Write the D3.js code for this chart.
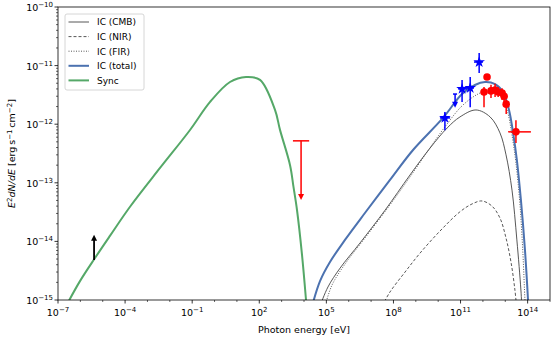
<!DOCTYPE html>
<html>
<head>
<meta charset="utf-8">
<script src="https://cdn.jsdelivr.net/npm/d3@7"></script>
<style>
  body { margin: 0; background: #fff; }
  text { font-family: "DejaVu Sans", sans-serif; fill: #000; }
</style>
</head>
<body>
<div id="chart"></div>
<script>
// model curves, [energy eV, E^2 dN/dE erg s^-1 cm^-2]
const icCMB = [[5.2e4,7.9e-16],[1.18e5,1.67e-15],[4.1e5,3.5e-15],[3.2e6,9.4e-15],[4.2e7,3.4e-14],[5.5e8,1.36e-13],
  [4.3e9,3.9e-13],[2.5e10,8.6e-13],[9.4e10,1.33e-12],[4.9e11,1.75e-12],[2.1e12,1.33e-12],[5.8e12,7.1e-13],
  [1.08e13,3.0e-13],[2.0e13,7.5e-14],[3.3e13,1.06e-14],[5.0e13,1.48e-15],[5.6e13,6.8e-16]];
const icNIR = [[3.1e7,7.9e-16],[7.0e7,1.37e-15],[3.3e8,3.0e-15],[1.54e9,6.3e-15],[1.2e10,1.5e-14],[9.4e10,3.2e-14],
  [3.25e11,4.35e-14],[9.1e11,4.9e-14],[2.55e12,4.0e-14],[5.8e12,2.5e-14],[1.08e13,1.14e-14],[1.8e13,4.45e-15],
  [2.7e13,1.48e-15],[3.3e13,6.8e-16]];
const icFIR = [[8.7e4,7.9e-16],[1.79e5,1.8e-15],[6.8e5,4.1e-15],[5.3e6,1.14e-14],[7.0e7,4.2e-14],[5.5e8,1.26e-13],
  [3.2e9,3.36e-13],[2.0e10,9.0e-13],[1.16e11,2.05e-12],[6.0e11,3.27e-12],[2.1e12,3.84e-12],[5.8e12,3.27e-12],
  [1.2e13,1.75e-12],[2.0e13,6.5e-13],[3.0e13,2.18e-13],[4.55e13,4.2e-14],[6.2e13,5.9e-15],[7.6e13,1.0e-15],[8.5e13,5.5e-16]];
const icTotal = [[2.3e4,7.9e-16],[5.2e4,2.1e-15],[1.45e5,4.45e-15],[6.8e5,1.06e-14],[5.3e6,3.05e-14],[7.0e7,1.12e-13],
  [7.5e8,3.63e-13],[1.64e10,1.28e-12],[1.16e11,3.27e-12],[4.4e11,4.67e-12],[1.24e12,5.25e-12],[3.5e12,4.85e-12],
  [7.9e12,3.55e-12],[1.47e13,1.75e-12],[2.2e13,7.4e-13],[3.3e13,2.45e-13],[5.0e13,5.1e-14],[7.6e13,7.1e-15],
  [1.04e14,1.0e-15],[1.15e14,4.6e-16]];
const sync = [[2.3e-7,7.9e-16],[9.6e-7,2.1e-15],[4.5e-6,5.2e-15],[2.1e-5,1.24e-14],[1.66e-4,3.9e-14],[3.65e-3,1.79e-13],
  [0.08,7.96e-13],[0.63,2.4e-12],[4.9,5.25e-12],[25.5,6.4e-12],[108,5.7e-12],[505,1.75e-12],[845,8e-13],
  [2377,2.0e-13],[3390,8.5e-14],[4880,3.4e-14],[8150,5.9e-15],[1.23e4,1.0e-15],[1.44e4,4.6e-16]];

// blue stars: E, Elo, Ehi, F, Flo, Fhi
const starPts = [
  [2.0e10, 1.2e10, 3.4e10, 1.28e-12, 7.9e-13, 1.62e-12],
  [1.17e11, 7.8e10, 1.95e11, 4.0e-12, 2.4e-12, 5.7e-12],
  [2.7e11, 1.8e11, 4.0e11, 4.15e-12, 1.95e-12, 6.4e-12],
  [6.8e11, 4.0e11, 1.0e12, 1.15e-11, 7.5e-12, 1.64e-11]
];
const starUL = [[5.7e10, 4.6e10, 7.0e10, 3.27e-12, 1.9e-12]];  // E, Elo, Ehi, F, arrow tip
// red circles: E, Elo, Ehi, F, Flo, Fhi
const redPts = [
  [1.53e12, 1.53e12, 1.53e12, 6.4e-12, 5.9e-12, 6.9e-12],
  [1.12e12, 1.12e12, 1.12e12, 3.55e-12, 1.95e-12, 4.3e-12],
  [2.3e12, 2.3e12, 2.3e12, 3.7e-12, 2.8e-12, 4.7e-12],
  [3.5e12, 3.5e12, 3.5e12, 3.84e-12, 2.9e-12, 4.9e-12],
  [4.8e12, 4.8e12, 4.8e12, 3.55e-12, 2.9e-12, 4.3e-12],
  [7.2e12, 7.2e12, 7.2e12, 3.4e-12, 2.6e-12, 4.1e-12],
  [8.9e12, 8.9e12, 8.9e12, 3.0e-12, 2.4e-12, 3.6e-12],
  [1.1e13, 1.1e13, 1.1e13, 2.2e-12, 1.5e-12, 2.6e-12],
  [3.0e13, 1.35e13, 1.4e14, 7.4e-13, 4.8e-13, 1.17e-12]
];
const redUL = [[7.4e3, 3.2e3, 1.7e4, 5.2e-13, 5.1e-14]];
const blackLL = [[4.1e-6, 4.8e-15, 1.3e-14]];  // E, F, arrow tip

const xTicks = [1e-7, 1e-4, 1e-1, 1e2, 1e5, 1e8, 1e11, 1e14];
const yTicks = [1e-15, 1e-14, 1e-13, 1e-12, 1e-11, 1e-10];

const legendItems = [
  { label: "IC (CMB)", color: "#444", width: 1, dash: null },
  { label: "IC (NIR)", color: "#444", width: 1, dash: "3,2" },
  { label: "IC (FIR)", color: "#444", width: 1, dash: "1,1.5" },
  { label: "IC (total)", color: "#4c72b0", width: 2, dash: null },
  { label: "Sync", color: "#55a868", width: 2, dash: null }
];

const W = 555, H = 341;
const margin = { top: 7, right: 5, bottom: 41, left: 58 };
const width = W - margin.left - margin.right;
const height = H - margin.top - margin.bottom;

const svg = d3.select("#chart").append("svg")
  .attr("width", W).attr("height", H);

const g = svg.append("g").attr("transform", `translate(${margin.left},${margin.top})`);

const x = d3.scaleLog().domain([1e-7, 1e15]).range([0, width]);
const y = d3.scaleLog().domain([1e-15, 1e-10]).range([height, 0]);

svg.append("defs").append("clipPath").attr("id", "clip")
  .append("rect").attr("width", width).attr("height", height);

// minor ticks
const xMinor = d3.range(-7, 16).map(p => Math.pow(10, p)).filter(v => !xTicks.includes(v));
const yMinor = [];
for (let p = -15; p < -10; p++) for (let k = 2; k < 10; k++) yMinor.push(k * Math.pow(10, p));

g.selectAll(".xminor").data(xMinor).join("line")
  .attr("x1", d => x(d)).attr("x2", d => x(d)).attr("y1", height).attr("y2", height + 2)
  .attr("stroke", "#000").attr("stroke-width", 0.6);
g.selectAll(".yminor").data(yMinor).join("line")
  .attr("x1", 0).attr("x2", -2).attr("y1", d => y(d)).attr("y2", d => y(d))
  .attr("stroke", "#000").attr("stroke-width", 0.6);

g.selectAll(".xmajor").data(xTicks).join("line")
  .attr("x1", d => x(d)).attr("x2", d => x(d)).attr("y1", height).attr("y2", height + 3.5)
  .attr("stroke", "#000").attr("stroke-width", 0.8);
g.selectAll(".ymajor").data(yTicks).join("line")
  .attr("x1", 0).attr("x2", -3.5).attr("y1", d => y(d)).attr("y2", d => y(d))
  .attr("stroke", "#000").attr("stroke-width", 0.8);

function powLabel(sel, d) {
  const e = Math.round(Math.log10(d));
  sel.append("tspan").text("10");
  sel.append("tspan").attr("dy", -4).style("font-size", "7px")
    .text(e < 0 ? "\u2212" + (-e) : e);
}

g.selectAll(".xlab").data(xTicks).join("text")
  .attr("x", d => x(d)).attr("y", height + 16)
  .attr("text-anchor", "middle").style("font-size", "9.5px")
  .each(function (d) { powLabel(d3.select(this), d); });

g.selectAll(".ylab").data(yTicks).join("text")
  .attr("x", -5).attr("y", d => y(d) + 4)
  .attr("text-anchor", "end").style("font-size", "9.5px")
  .each(function (d) { powLabel(d3.select(this), d); });

// curves
const line = d3.line().x(d => x(d[0])).y(d => y(d[1])).curve(d3.curveCatmullRom.alpha(0.5));
const curves = g.append("g").attr("clip-path", "url(#clip)");
const curveSets = [
  [icCMB, legendItems[0]], [icNIR, legendItems[1]], [icFIR, legendItems[2]],
  [icTotal, legendItems[3]], [sync, legendItems[4]]
];
curveSets.forEach(([data, st]) => {
  curves.append("path").datum(data).attr("d", line)
    .attr("fill", "none").attr("stroke", st.color)
    .attr("stroke-width", st.width === 1 ? 0.9 : 2)
    .attr("stroke-dasharray", st.dash);
});

// data points
const pts = g.append("g");
function errbars(data, color) {
  data.forEach(d => {
    pts.append("line").attr("x1", x(d[1])).attr("x2", x(d[2])).attr("y1", y(d[3])).attr("y2", y(d[3]))
      .attr("stroke", color).attr("stroke-width", 1.5);
    pts.append("line").attr("x1", x(d[0])).attr("x2", x(d[0])).attr("y1", y(d[4])).attr("y2", y(d[5]))
      .attr("stroke", color).attr("stroke-width", 1.5);
  });
}
function upperLimit(data, color) {
  data.forEach(d => {
    pts.append("line").attr("x1", x(d[1])).attr("x2", x(d[2])).attr("y1", y(d[3])).attr("y2", y(d[3]))
      .attr("stroke", color).attr("stroke-width", 1.5);
    pts.append("line").attr("x1", x(d[0])).attr("x2", x(d[0])).attr("y1", y(d[3])).attr("y2", y(d[4]) - 4)
      .attr("stroke", color).attr("stroke-width", 1.5);
    const tx = x(d[0]), ty = y(d[4]);
    pts.append("path").attr("d", `M${tx - 3},${ty - 6}L${tx + 3},${ty - 6}L${tx},${ty}Z`).attr("fill", color);
  });
}
errbars(starPts, "#0000ff");
pts.selectAll(".star").data(starPts).join("path")
  .attr("transform", d => `translate(${x(d[0])},${y(d[3])})`)
  .attr("d", d3.symbol(d3.symbolStar, 42)).attr("fill", "#0000ff");
upperLimit(starUL, "#0000ff");

errbars(redPts, "#ff0000");
pts.selectAll(".dot").data(redPts).join("circle")
  .attr("cx", d => x(d[0])).attr("cy", d => y(d[3])).attr("r", 3.8).attr("fill", "#ff0000");
upperLimit(redUL, "#ff0000");

blackLL.forEach(d => {
  const tx = x(d[0]), ty = y(d[2]);
  pts.append("line").attr("x1", tx).attr("x2", tx).attr("y1", y(d[1])).attr("y2", ty + 4)
    .attr("stroke", "#000").attr("stroke-width", 1.8);
  pts.append("path").attr("d", `M${tx - 3},${ty + 6}L${tx + 3},${ty + 6}L${tx},${ty}Z`).attr("fill", "#000");
});

// frame
g.append("rect").attr("width", width).attr("height", height)
  .attr("fill", "none").attr("stroke", "#000").attr("stroke-width", 0.8);

// legend
const lg = g.append("g").attr("transform", "translate(7,7)");
lg.append("rect").attr("width", 79).attr("height", 76).attr("rx", 2)
  .attr("fill", "#fff").attr("fill-opacity", 0.8).attr("stroke", "#ccc").attr("stroke-width", 0.8);
legendItems.forEach((it, i) => {
  const yy = 8 + i * 14.6;
  lg.append("line").attr("x1", 3.5).attr("x2", 24).attr("y1", yy).attr("y2", yy)
    .attr("stroke", it.color).attr("stroke-width", it.width === 1 ? 0.9 : 2)
    .attr("stroke-dasharray", it.dash);
  lg.append("text").attr("x", 32).attr("y", yy + 3.3).style("font-size", "9px").text(it.label);
});

// axis labels
svg.append("text").attr("x", margin.left + width / 2).attr("y", 333)
  .attr("text-anchor", "middle").style("font-size", "9.5px").text("Photon energy [eV]");

const yl = svg.append("text").attr("transform", `translate(15,${margin.top + height / 2}) rotate(-90)`)
  .attr("text-anchor", "middle").style("font-size", "9.5px");
yl.append("tspan").style("font-style", "italic").text("E");
yl.append("tspan").attr("dy", -3.5).style("font-size", "7px").text("2");
yl.append("tspan").attr("dy", 3.5).style("font-style", "italic").text("dN/dE");
yl.append("tspan").text(" [erg\u2009s");
yl.append("tspan").attr("dy", -3.5).style("font-size", "7px").text("\u22121");
yl.append("tspan").attr("dy", 3.5).text("\u2009cm");
yl.append("tspan").attr("dy", -3.5).style("font-size", "7px").text("\u22122");
yl.append("tspan").attr("dy", 3.5).text("]");
</script>
</body>
</html>
